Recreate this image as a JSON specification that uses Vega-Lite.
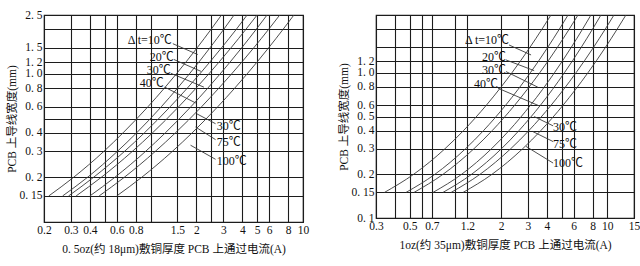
{
  "$schema": "https://vega.github.io/schema/vega-lite/v6.json",
  "background": "white",
  "padding": {"left": 5, "top": 8, "right": 2, "bottom": 2},
  "spacing": 27,
  "config": {
    "view": {"stroke": "#1c1c1c", "strokeWidth": 1.2},
    "axis": {
      "grid": true,
      "gridColor": "#1c1c1c",
      "gridOpacity": 1,
      "gridWidth": 1.1,
      "ticks": false,
      "domain": false,
      "labelFont": "Liberation Serif",
      "labelFontSize": 11.5,
      "labelColor": "#111111",
      "labelOverlap": false,
      "labelFlush": false,
      "titleFont": "Liberation Serif, Noto Sans CJK SC",
      "titleFontSize": 11.5,
      "titleFontWeight": "normal",
      "titleColor": "#111111"
    },
    "axisX": {"labelPadding": 2, "titlePadding": 8},
    "axisY": {"labelPadding": 2, "titlePadding": 2}
  },
  "datasets": {
    "curves05": [
      {"dt": 10, "I": 0.215, "W": 0.15}, {"dt": 10, "I": 0.312, "W": 0.2}, {"dt": 10, "I": 0.494, "W": 0.3}, {"dt": 10, "I": 0.66, "W": 0.4}, {"dt": 10, "I": 0.961, "W": 0.6}, {"dt": 10, "I": 1.23, "W": 0.8}, {"dt": 10, "I": 1.476, "W": 1.0}, {"dt": 10, "I": 2.02, "W": 1.5}, {"dt": 10, "I": 2.494, "W": 2.0}, {"dt": 10, "I": 2.92, "W": 2.5},
      {"dt": 20, "I": 0.265, "W": 0.15}, {"dt": 20, "I": 0.385, "W": 0.2}, {"dt": 20, "I": 0.606, "W": 0.3}, {"dt": 20, "I": 0.81, "W": 0.4}, {"dt": 20, "I": 1.176, "W": 0.6}, {"dt": 20, "I": 1.5, "W": 0.8}, {"dt": 20, "I": 1.797, "W": 1.0}, {"dt": 20, "I": 2.452, "W": 1.5}, {"dt": 20, "I": 3.02, "W": 2.0}, {"dt": 20, "I": 3.53, "W": 2.5},
      {"dt": 30, "I": 0.29, "W": 0.15}, {"dt": 30, "I": 0.422, "W": 0.2}, {"dt": 30, "I": 0.675, "W": 0.3}, {"dt": 30, "I": 0.911, "W": 0.4}, {"dt": 30, "I": 1.344, "W": 0.6}, {"dt": 30, "I": 1.739, "W": 0.8}, {"dt": 30, "I": 2.103, "W": 1.0}, {"dt": 30, "I": 2.92, "W": 1.5}, {"dt": 30, "I": 3.65, "W": 2.0}, {"dt": 30, "I": 4.3, "W": 2.5},
      {"dt": 40, "I": 0.325, "W": 0.15}, {"dt": 40, "I": 0.474, "W": 0.2}, {"dt": 40, "I": 0.76, "W": 0.3}, {"dt": 40, "I": 1.03, "W": 0.4}, {"dt": 40, "I": 1.529, "W": 0.6}, {"dt": 40, "I": 1.986, "W": 0.8}, {"dt": 40, "I": 2.41, "W": 1.0}, {"dt": 40, "I": 3.37, "W": 1.5}, {"dt": 40, "I": 4.22, "W": 2.0}, {"dt": 40, "I": 5.0, "W": 2.5},
      {"dt": 50, "I": 0.4, "W": 0.15}, {"dt": 50, "I": 0.582, "W": 0.2}, {"dt": 50, "I": 0.928, "W": 0.3}, {"dt": 50, "I": 1.25, "W": 0.4}, {"dt": 50, "I": 1.838, "W": 0.6}, {"dt": 50, "I": 2.37, "W": 0.8}, {"dt": 50, "I": 2.86, "W": 1.0}, {"dt": 50, "I": 3.96, "W": 1.5}, {"dt": 50, "I": 4.93, "W": 2.0}, {"dt": 50, "I": 5.81, "W": 2.5},
      {"dt": 75, "I": 0.46, "W": 0.15}, {"dt": 75, "I": 0.671, "W": 0.2}, {"dt": 75, "I": 1.075, "W": 0.3}, {"dt": 75, "I": 1.456, "W": 0.4}, {"dt": 75, "I": 2.16, "W": 0.6}, {"dt": 75, "I": 2.8, "W": 0.8}, {"dt": 75, "I": 3.4, "W": 1.0}, {"dt": 75, "I": 4.75, "W": 1.5}, {"dt": 75, "I": 5.95, "W": 2.0}, {"dt": 75, "I": 7.04, "W": 2.5},
      {"dt": 100, "I": 0.6, "W": 0.15}, {"dt": 100, "I": 0.873, "W": 0.2}, {"dt": 100, "I": 1.391, "W": 0.3}, {"dt": 100, "I": 1.874, "W": 0.4}, {"dt": 100, "I": 2.758, "W": 0.6}, {"dt": 100, "I": 3.559, "W": 0.8}, {"dt": 100, "I": 4.297, "W": 1.0}, {"dt": 100, "I": 5.947, "W": 1.5}, {"dt": 100, "I": 7.4, "W": 2.0}, {"dt": 100, "I": 8.72, "W": 2.5}
    ],
    "curves1": [
      {"dt": 10, "I": 0.341, "W": 0.15}, {"dt": 10, "I": 0.531, "W": 0.2}, {"dt": 10, "I": 0.854, "W": 0.3}, {"dt": 10, "I": 1.131, "W": 0.4}, {"dt": 10, "I": 1.603, "W": 0.6}, {"dt": 10, "I": 2.003, "W": 0.8}, {"dt": 10, "I": 2.355, "W": 1.0}, {"dt": 10, "I": 3.1, "W": 1.5}, {"dt": 10, "I": 3.72, "W": 2.0}, {"dt": 10, "I": 4.26, "W": 2.5},
      {"dt": 20, "I": 0.473, "W": 0.15}, {"dt": 20, "I": 0.733, "W": 0.2}, {"dt": 20, "I": 1.166, "W": 0.3}, {"dt": 20, "I": 1.532, "W": 0.4}, {"dt": 20, "I": 2.147, "W": 0.6}, {"dt": 20, "I": 3.115, "W": 1.0}, {"dt": 20, "I": 4.061, "W": 1.5}, {"dt": 20, "I": 4.84, "W": 2.0}, {"dt": 20, "I": 5.52, "W": 2.5},
      {"dt": 30, "I": 0.534, "W": 0.15}, {"dt": 30, "I": 0.829, "W": 0.2}, {"dt": 30, "I": 1.325, "W": 0.3}, {"dt": 30, "I": 1.748, "W": 0.4}, {"dt": 30, "I": 2.462, "W": 0.6}, {"dt": 30, "I": 3.591, "W": 1.0}, {"dt": 30, "I": 4.702, "W": 1.5}, {"dt": 30, "I": 5.62, "W": 2.0}, {"dt": 30, "I": 6.42, "W": 2.5},
      {"dt": 40, "I": 0.712, "W": 0.15}, {"dt": 40, "I": 1.099, "W": 0.2}, {"dt": 40, "I": 1.729, "W": 0.3}, {"dt": 40, "I": 2.256, "W": 0.4}, {"dt": 40, "I": 3.13, "W": 0.6}, {"dt": 40, "I": 4.488, "W": 1.0}, {"dt": 40, "I": 5.8, "W": 1.5}, {"dt": 40, "I": 6.88, "W": 2.0}, {"dt": 40, "I": 7.81, "W": 2.5},
      {"dt": 50, "I": 0.828, "W": 0.15}, {"dt": 50, "I": 1.278, "W": 0.2}, {"dt": 50, "I": 2.01, "W": 0.3}, {"dt": 50, "I": 2.623, "W": 0.4}, {"dt": 50, "I": 3.64, "W": 0.6}, {"dt": 50, "I": 5.22, "W": 1.0}, {"dt": 50, "I": 6.748, "W": 1.5}, {"dt": 50, "I": 8.003, "W": 2.0}, {"dt": 50, "I": 9.09, "W": 2.5},
      {"dt": 75, "I": 0.937, "W": 0.15}, {"dt": 75, "I": 1.453, "W": 0.2}, {"dt": 75, "I": 2.315, "W": 0.3}, {"dt": 75, "I": 3.048, "W": 0.4}, {"dt": 75, "I": 4.279, "W": 0.6}, {"dt": 75, "I": 6.223, "W": 1.0}, {"dt": 75, "I": 8.129, "W": 1.5}, {"dt": 75, "I": 9.707, "W": 2.0}, {"dt": 75, "I": 11.07, "W": 2.5},
      {"dt": 100, "I": 1.123, "W": 0.15}, {"dt": 100, "I": 1.742, "W": 0.2}, {"dt": 100, "I": 2.775, "W": 0.3}, {"dt": 100, "I": 3.653, "W": 0.4}, {"dt": 100, "I": 5.129, "W": 0.6}, {"dt": 100, "I": 7.458, "W": 1.0}, {"dt": 100, "I": 9.743, "W": 1.5}, {"dt": 100, "I": 11.63, "W": 2.0}, {"dt": 100, "I": 13.27, "W": 2.5}
    ],
    "leaders05": [
      {"I": 1.4, "W": 1.6, "I2": 2.04, "W2": 1.352},
      {"I": 1.421, "W": 1.252, "I2": 2.14, "W2": 1.041},
      {"I": 1.358, "W": 1.01, "I2": 2.24, "W2": 0.814},
      {"I": 1.24, "W": 0.814, "I2": 1.98, "W2": 0.636},
      {"I": 2.67, "W": 0.461, "I2": 2.01, "W2": 0.538},
      {"I": 2.67, "W": 0.36, "I2": 1.973, "W2": 0.438},
      {"I": 2.67, "W": 0.265, "I2": 1.83, "W2": 0.33}
    ],
    "leaders1": [
      {"I": 2.256, "W": 1.554, "I2": 3.15, "W2": 1.327},
      {"I": 2.155, "W": 1.226, "I2": 3.3, "W2": 1.035},
      {"I": 2.155, "W": 1.019, "I2": 3.49, "W2": 0.796},
      {"I": 1.909, "W": 0.783, "I2": 3.56, "W2": 0.592},
      {"I": 4.4, "W": 0.431, "I2": 3.3, "W2": 0.4996},
      {"I": 4.4, "W": 0.336, "I2": 3.23, "W2": 0.394},
      {"I": 4.4, "W": 0.239, "I2": 2.92, "W2": 0.311}
    ],
    "tagsUpper05": [
      {"I": 1.379, "W": 1.702, "tag": "Δ t=10℃"},
      {"I": 1.421, "W": 1.311, "tag": "20℃"},
      {"I": 1.358, "W": 1.066, "tag": "30℃"},
      {"I": 1.222, "W": 0.866, "tag": "40℃"}
    ],
    "tagsLower05": [
      {"I": 2.72, "W": 0.447, "tag": "30℃"},
      {"I": 2.72, "W": 0.349, "tag": "75℃"},
      {"I": 2.72, "W": 0.257, "tag": "100℃"}
    ],
    "tagsUpper1": [
      {"I": 2.256, "W": 1.67, "tag": "Δ t=10℃"},
      {"I": 2.155, "W": 1.275, "tag": "20℃"},
      {"I": 2.155, "W": 1.038, "tag": "30℃"},
      {"I": 1.909, "W": 0.838, "tag": "40℃"}
    ],
    "tagsLower1": [
      {"I": 4.4, "W": 0.421, "tag": "30℃"},
      {"I": 4.4, "W": 0.322, "tag": "75℃"},
      {"I": 4.4, "W": 0.238, "tag": "100℃"}
    ]
  },
  "hconcat": [
    {
      "width": 259,
      "height": 207,
      "encoding": {
        "x": {
          "field": "I",
          "type": "quantitative",
          "scale": {"type": "log", "domain": [0.2, 10]},
          "axis": {
            "title": "0. 5oz(约 18μm)敷铜厚度 PCB 上通过电流(A)",
            "values": [0.2, 0.3, 0.4, 0.5, 0.6, 0.8, 1, 1.5, 2, 2.5, 3, 4, 5, 6, 8, 10],
            "labelExpr": "indexof([0.5, 1, 2.5], datum.value) >= 0 ? '' : format(datum.value, '~g')"
          }
        },
        "y": {
          "field": "W",
          "type": "quantitative",
          "scale": {"type": "log", "domain": [0.1, 2.5]},
          "axis": {
            "title": "PCB 上导线宽度(mm)",
            "values": [0.1, 0.15, 0.2, 0.3, 0.4, 0.5, 0.6, 0.8, 1, 1.2, 1.5, 2, 2.5],
            "labelExpr": "indexof([0.1, 0.5, 2], datum.value) >= 0 ? '' : (datum.value == 1 ? '1. 0' : replace(format(datum.value, '~g'), '.', '. '))"
          }
        }
      },
      "layer": [
        {
          "data": {"name": "curves05"},
          "mark": {"type": "line", "interpolate": "monotone", "stroke": "#3a3a3a", "strokeWidth": 0.9, "clip": true},
          "encoding": {"detail": {"field": "dt", "type": "nominal"}}
        },
        {
          "data": {"name": "leaders05"},
          "mark": {"type": "rule", "stroke": "#3a3a3a", "strokeWidth": 0.9},
          "encoding": {"x2": {"field": "I2"}, "y2": {"field": "W2"}}
        },
        {
          "data": {"name": "tagsUpper05"},
          "mark": {"type": "text", "align": "right", "baseline": "middle", "font": "Liberation Serif, Noto Sans CJK SC", "fontSize": 12, "color": "#111111"},
          "encoding": {"text": {"field": "tag"}}
        },
        {
          "data": {"name": "tagsLower05"},
          "mark": {"type": "text", "align": "left", "baseline": "middle", "font": "Liberation Serif, Noto Sans CJK SC", "fontSize": 12, "color": "#111111"},
          "encoding": {"text": {"field": "tag"}}
        }
      ]
    },
    {
      "width": 258,
      "height": 203,
      "encoding": {
        "x": {
          "field": "I",
          "type": "quantitative",
          "scale": {"type": "log", "domain": [0.3, 15]},
          "axis": {
            "title": "1oz(约 35μm)敷铜厚度 PCB 上通过电流(A)",
            "values": [0.3, 0.4, 0.5, 0.6, 0.7, 1, 1.2, 2, 3, 4, 5, 6, 8, 10, 15],
            "labelExpr": "indexof([0.4, 0.6, 1, 5], datum.value) >= 0 ? '' : format(datum.value, '~g')"
          }
        },
        "y": {
          "field": "W",
          "type": "quantitative",
          "scale": {"type": "log", "domain": [0.1, 2.5]},
          "axis": {
            "title": "PCB 上导线宽度(mm)",
            "values": [0.1, 0.15, 0.2, 0.3, 0.4, 0.5, 0.6, 0.8, 1, 1.2, 1.5, 2, 2.5],
            "labelExpr": "indexof([1.5, 2, 2.5], datum.value) >= 0 ? '' : (datum.value == 1 ? '1. 0' : replace(format(datum.value, '~g'), '.', '. '))"
          }
        }
      },
      "layer": [
        {
          "data": {"name": "curves1"},
          "mark": {"type": "line", "interpolate": "monotone", "stroke": "#3a3a3a", "strokeWidth": 0.9, "clip": true},
          "encoding": {"detail": {"field": "dt", "type": "nominal"}}
        },
        {
          "data": {"name": "leaders1"},
          "mark": {"type": "rule", "stroke": "#3a3a3a", "strokeWidth": 0.9},
          "encoding": {"x2": {"field": "I2"}, "y2": {"field": "W2"}}
        },
        {
          "data": {"name": "tagsUpper1"},
          "mark": {"type": "text", "align": "right", "baseline": "middle", "font": "Liberation Serif, Noto Sans CJK SC", "fontSize": 12, "color": "#111111"},
          "encoding": {"text": {"field": "tag"}}
        },
        {
          "data": {"name": "tagsLower1"},
          "mark": {"type": "text", "align": "left", "baseline": "middle", "font": "Liberation Serif, Noto Sans CJK SC", "fontSize": 12, "color": "#111111"},
          "encoding": {"text": {"field": "tag"}}
        }
      ]
    }
  ]
}
